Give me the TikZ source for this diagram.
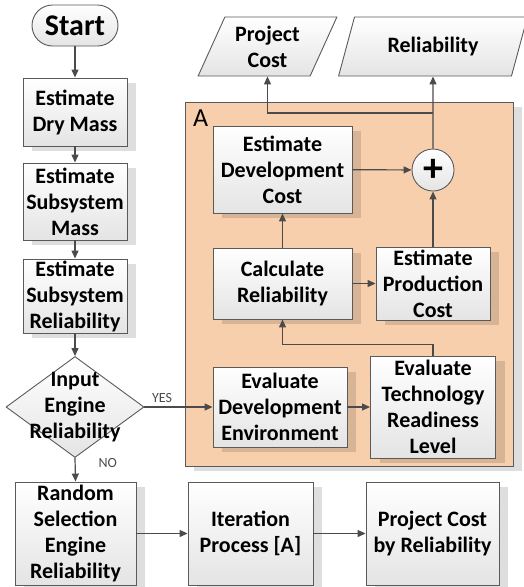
\documentclass[tikz,border=0pt]{standalone}
\usepackage{fontspec}
\setmainfont{Carlito}
\usetikzlibrary{shapes.geometric,arrows.meta,positioning,shadows}
\definecolor{edgegrey}{RGB}{90,90,90}
\definecolor{arrowgrey}{RGB}{75,75,75}
\definecolor{peach}{RGB}{248,207,173}
\definecolor{boxbottom}{RGB}{228,228,228}

\begin{document}
\begin{tikzpicture}[x=1pt, y=-1pt,
    boxshadow/.style={general shadow={fill=black, opacity=0.13, shadow xshift=9pt, shadow yshift=-5pt}},
    stepbox/.style={rectangle, draw=edgegrey, line width=0.9pt, top color=white, bottom color=boxbottom,
                align=center, font=\bfseries\fontsize{22}{26}\selectfont, inner sep=0pt, boxshadow},
    terminal/.style={rectangle, rounded corners=20.5pt, draw=edgegrey, line width=0.9pt, top color=white,
                bottom color=boxbottom, minimum width=86pt, minimum height=41pt, font=\bfseries\fontsize{30}{32}\selectfont},
    decision/.style={diamond, draw=edgegrey, line width=0.9pt, top color=white, bottom color=boxbottom,
                minimum width=138pt, minimum height=101pt, inner sep=0pt},
    datanode/.style={trapezium, trapezium left angle=64, trapezium right angle=116, trapezium stretches=true,
                draw=edgegrey, line width=0.9pt, top color=white, bottom color=boxbottom, minimum height=59pt,
                align=center, font=\bfseries\fontsize{22}{26}\selectfont, inner sep=0pt},
    sumnode/.style={circle, draw=edgegrey, line width=0.9pt, top color=white, bottom color=boxbottom,
                minimum size=42pt, inner sep=0pt, font=\bfseries\fontsize{40}{40}\selectfont},
    tag/.style={font=\fontsize{14}{16}\selectfont, inner sep=0pt},
    arr/.style={-{Triangle[length=8pt, width=7pt]}, line width=1.2pt, arrowgrey}
]
    \useasboundingbox (0,0) rectangle (523,587);

    \node[rectangle, draw=edgegrey, line width=0.9pt, fill=peach, boxshadow,
          minimum width=328pt, minimum height=364pt] (regionA) at (349,284) {};
    \node[anchor=north west, inner sep=0pt, font=\fontsize{26}{26}\selectfont] (labA) at (193,110) {A};

    \node[terminal] (start) at (75,25.5) {Start};
    \node[stepbox, minimum width=104pt, minimum height=68pt] (drymass) at (75,112) {Estimate\\Dry Mass};
    \node[stepbox, minimum width=104pt, minimum height=77pt] (submass) at (75,201.5) {Estimate\\Subsystem\\Mass};
    \node[stepbox, minimum width=104pt, minimum height=74pt] (subrel)  at (75,296) {Estimate\\Subsystem\\Reliability};
    \node[decision] (engine) at (75,407) {};
    \node[align=center, font=\bfseries\fontsize{22}{26}\selectfont, inner sep=0pt] (enginetext) at (engine.center) {Input\\Engine\\Reliability};

    \node[stepbox, minimum width=121pt, minimum height=103pt] (random) at (75.5,533.5) {Random\\Selection\\Engine\\Reliability};
    \node[stepbox, minimum width=125pt, minimum height=103pt] (iter)   at (250.5,533.5) {Iteration\\Process [A]};
    \node[stepbox, minimum width=133pt, minimum height=103pt] (pcr)    at (432.5,533.5) {Project Cost\\by Reliability};

    \node[stepbox, minimum width=139pt, minimum height=87pt]  (devcost)  at (282.5,169.5) {Estimate\\Development\\Cost};
    \node[sumnode] (plus) at (433,170) {+};
    \node[stepbox, minimum width=139pt, minimum height=71pt]  (calcrel)  at (282.5,283.5) {Calculate\\Reliability};
    \node[stepbox, minimum width=114pt, minimum height=73pt]  (prodcost) at (433,283.5) {Estimate\\Production\\Cost};
    \node[stepbox, minimum width=134pt, minimum height=80pt]  (devenv)   at (280,407) {Evaluate\\Development\\Environment};
    \node[stepbox, minimum width=125pt, minimum height=102pt] (trl)      at (433,407) {Evaluate\\Technology\\Readiness\\Level};

    \node[datanode, minimum width=139pt] (pcost)  at (267.5,46.5) {Project\\Cost};
    \node[datanode, minimum width=189pt] (reliab) at (433,46.5) {Reliability};
    \coordinate (split) at (433,113);

    \draw[arr] (start) -- (drymass);
    \draw[arr] (drymass) -- (submass);
    \draw[arr] (submass) -- (subrel);
    \draw[arr] (subrel) -- (engine);
    \draw[arr] (engine.east) -- node[tag, pos=0.26, anchor=south, yshift=4pt] (yes) {YES} (devenv.west);
    \draw[arr] (engine.south) -- node[tag, pos=0.2, anchor=west, xshift=23pt] (no) {NO} (random.north);
    \draw[arr] (random) -- (iter);
    \draw[arr] (iter) -- (pcr);

    \draw[arr] (devenv) -- (trl);
    \draw[arr] (trl.north) -- ++(0,-11) -| (calcrel.south);
    \draw[arr] (calcrel) -- (devcost);
    \draw[arr] (calcrel) -- (prodcost);
    \draw[arr] (prodcost) -- (plus);
    \draw[arr] (devcost) -- (plus);
    \draw[arr] (plus) -- (reliab.south);
    \draw[arr] (split) -| (pcost.south);
\end{tikzpicture}
\end{document}
